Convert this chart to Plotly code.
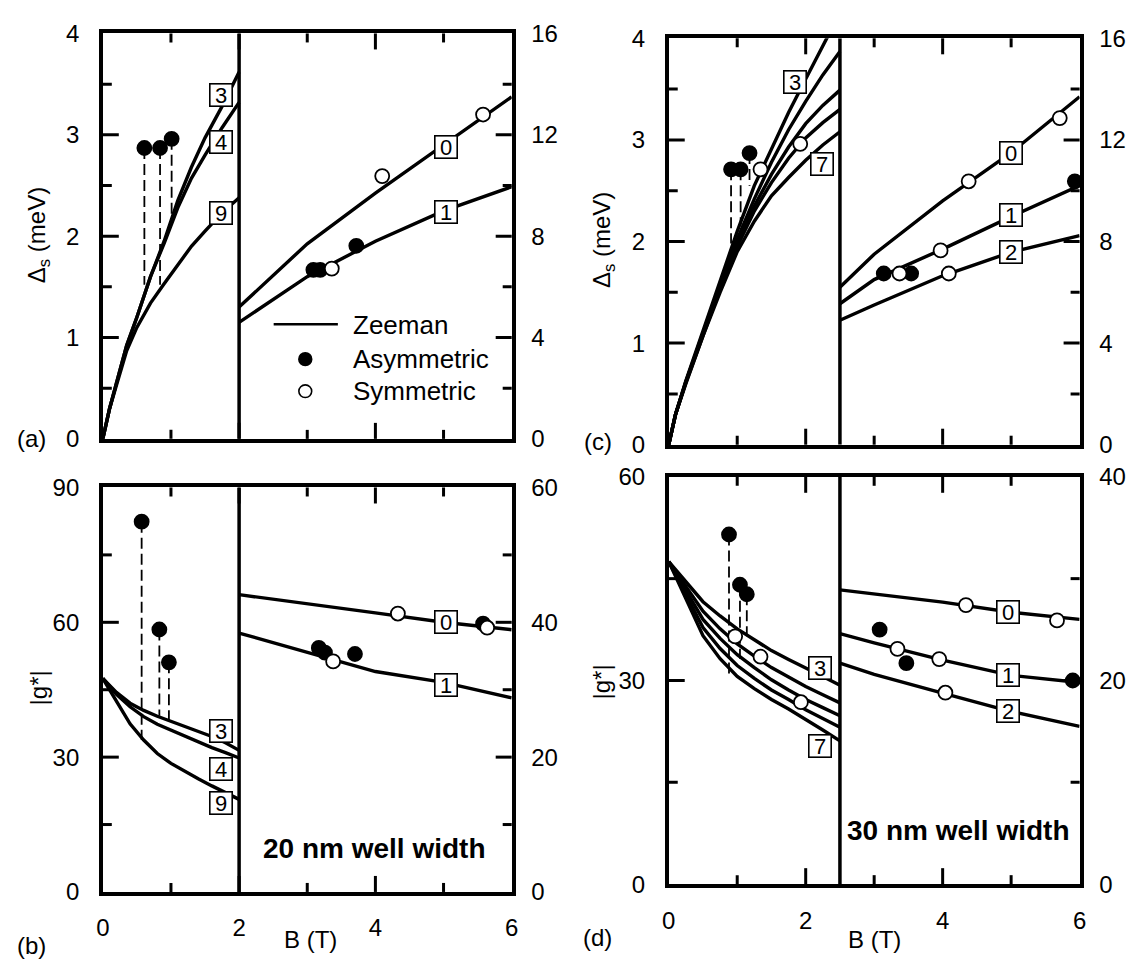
import plotly.graph_objects as go

W, H = 1135, 973

# ---------------- data ----------------
# Panel (a): 20 nm well, spin splitting (meV) -- low-field part, left axis
a_xl = [0, 0.1, 0.2, 0.35, 0.5, 0.7, 0.9, 1.1, 1.3, 1.5, 1.75, 2.0]
a_l3 = [0, 0.3, 0.55, 0.92, 1.2, 1.6, 1.95, 2.35, 2.68, 2.97, 3.28, 3.62]
a_l4 = [0, 0.3, 0.55, 0.92, 1.2, 1.6, 1.93, 2.28, 2.57, 2.8, 3.07, 3.32]
a_l9 = [0, 0.3, 0.53, 0.87, 1.1, 1.34, 1.53, 1.72, 1.9, 2.05, 2.23, 2.38]
# high-field part, right axis
a_xr = [2, 3, 4, 5, 6]
a_r0 = [5.2, 7.7, 9.7, 11.6, 13.5]
a_r1 = [4.6, 6.4, 7.8, 9.0, 9.95]
a_asym_l_x = [0.61, 0.84, 1.01]
a_asym_l_y = [2.87, 2.87, 2.96]
a_asym_l_drop = [1.52, 1.52, 2.2]
a_asym_r_x = [3.09, 3.19, 3.72]
a_asym_r_y = [6.67, 6.67, 7.62]
a_sym_r_x = [3.36, 4.1, 5.58]
a_sym_r_y = [6.72, 10.37, 12.8]

# Panel (b): 20 nm well, |g*|
b_xl = [0, 0.2, 0.4, 0.6, 0.8, 1.0, 1.2, 1.4, 1.6, 1.8, 2.0]
b_l3 = [47.5, 44.4, 42.0, 40.4, 39.1, 38.0, 37.0, 35.8, 34.6, 33.2, 31.5]
b_l4 = [47.5, 44.0, 41.2, 39.0, 37.3, 36.0, 34.7, 33.3, 32.1, 31.0, 29.8]
b_l9 = [47.5, 42.3, 37.4, 33.8, 30.8, 28.6, 26.8, 25.2, 23.6, 22.0, 20.6]
b_xr = [2, 3, 4, 5, 6]
b_r0 = [44.1, 42.8, 41.4, 40.0, 38.9]
b_r1 = [38.4, 35.6, 32.7, 31.1, 28.8]
b_asym_l_x = [0.57, 0.83, 0.97]
b_asym_l_y = [82.4, 58.4, 51.1]
b_asym_l_drop = [33.8, 39.2, 38.1]
b_asym_r_x = [3.17, 3.26, 3.7, 5.58]
b_asym_r_y = [36.2, 35.5, 35.3, 39.8]
b_sym_r_x = [3.38, 4.33, 5.64]
b_sym_r_y = [34.2, 41.3, 39.2]

# Panel (c): 30 nm well, spin splitting (meV)
c_xl = [0, 0.1, 0.25, 0.5, 0.75, 1.0, 1.25, 1.5, 1.75, 2.0, 2.25, 2.5]
c_l3 = [0, 0.3, 0.63, 1.12, 1.62, 2.1, 2.55, 2.92, 3.27, 3.6, 3.93, 4.25]
c_l4 = [0, 0.3, 0.62, 1.1, 1.58, 2.02, 2.42, 2.78, 3.1, 3.38, 3.64, 3.87]
c_l5 = [0, 0.3, 0.62, 1.09, 1.55, 1.98, 2.35, 2.66, 2.93, 3.16, 3.34, 3.49]
c_l6 = [0, 0.3, 0.61, 1.08, 1.53, 1.95, 2.3, 2.58, 2.82, 3.02, 3.17, 3.3]
c_l7 = [0, 0.3, 0.6, 1.07, 1.5, 1.9, 2.2, 2.45, 2.63, 2.8, 2.95, 3.08]
c_xr = [2.5, 3, 4, 5, 6]
c_r0 = [6.2, 7.5, 9.6, 11.5, 13.7]
c_r1 = [5.55, 6.5, 7.7, 8.98, 10.2]
c_r2 = [4.9, 5.5, 6.65, 7.58, 8.23]
c_asym_l_x = [0.91, 1.05, 1.18]
c_asym_l_y = [2.71, 2.71, 2.87]
c_asym_l_drop = [1.98, 2.15, 2.55]
c_sym_l_x = [1.34, 1.92]
c_sym_l_y = [2.71, 2.96]
c_asym_r_x = [3.14, 3.54, 5.93]
c_asym_r_y = [6.74, 6.74, 10.37]
c_sym_r_x = [3.37, 3.97, 4.09, 4.38, 5.71]
c_sym_r_y = [6.74, 7.65, 6.74, 10.37, 12.86]

# Panel (d): 30 nm well, |g*|
d_xl = [0, 0.25, 0.5, 0.75, 1.0, 1.25, 1.5, 1.75, 2.0, 2.25, 2.5]
d_l3 = [47.5, 44.5, 41.6, 39.5, 37.6, 36.0, 34.4, 33.1, 31.9, 30.6, 29.3]
d_l4 = [47.5, 43.8, 40.2, 37.6, 35.4, 33.6, 31.9, 30.5, 29.1, 27.9, 26.7]
d_l5 = [47.5, 43.2, 39.0, 36.2, 33.8, 31.9, 30.1, 28.6, 27.2, 26.0, 24.8]
d_l6 = [47.5, 42.6, 37.8, 34.7, 32.2, 30.3, 28.6, 27.2, 25.7, 24.4, 23.1]
d_l7 = [47.5, 42.0, 36.6, 33.2, 30.6, 28.8, 27.2, 25.8, 24.3, 22.7, 21.1]
d_xr = [2.5, 3, 4, 5, 6]
d_r0 = [28.9, 28.5, 27.7, 26.7, 26.0]
d_r1 = [24.6, 23.7, 22.0, 20.5, 19.8]
d_r2 = [21.7, 20.6, 18.75, 16.95, 15.5]
d_asym_l_x = [0.88, 1.04, 1.14]
d_asym_l_y = [51.5, 44.1, 42.7]
d_asym_l_drop = [30.8, 33.2, 36.5]
d_sym_l_x = [0.97, 1.34, 1.93]
d_sym_l_y = [36.5, 33.5, 26.8]
d_asym_r_x = [3.08, 3.47, 5.9]
d_asym_r_y = [25.0, 21.7, 20.0]
d_sym_r_x = [3.34, 3.95, 4.04, 4.34, 5.67]
d_sym_r_y = [23.1, 22.1, 18.8, 27.4, 25.9]

# curve tags (text, B, value, which y-axis)
a_tags = [("3", 1.74, 3.39, "L"), ("4", 1.74, 2.93, "L"), ("9", 1.74, 2.23, "L"),
          ("0", 5.04, 11.5, "R"), ("1", 5.04, 8.97, "R")]
b_tags = [("3", 1.74, 35.9, "L"), ("4", 1.74, 27.3, "L"), ("9", 1.74, 19.7, "L"),
          ("0", 5.03, 40.1, "R"), ("1", 5.03, 30.7, "R")]
c_tags = [("3", 1.85, 3.57, "L"), ("7", 2.24, 2.76, "L"),
          ("0", 5.0, 11.48, "R"), ("1", 5.0, 9.03, "R"), ("2", 5.0, 7.58, "R")]
d_tags = [("3", 2.21, 31.8, "L"), ("7", 2.21, 20.3, "L"),
          ("0", 4.95, 26.7, "R"), ("1", 4.95, 20.5, "R"), ("2", 4.95, 17.0, "R")]

# ---------------- layout geometry (pixels) ----------------
FONT = "Liberation Sans, Arial, sans-serif"
panels = {
    "a": dict(x=(97, 511), y=(20, 437), xa="x", yl="y", yr="y2", div=2.0,
              ylr=[0, 4], yld=1, ylm=0.5, yrr=[0, 16], yrd=4, yrm=2, xlab=False),
    "b": dict(x=(97, 511), y=(487, 903), xa="x2", yl="y3", yr="y4", div=2.0,
              ylr=[0, 90], yld=30, ylm=15, yrr=[0, 60], yrd=20, yrm=10, xlab=True),
    "c": dict(x=(670, 1086), y=(25, 443), xa="x3", yl="y5", yr="y6", div=2.5,
              ylr=[0, 4], yld=1, ylm=0.5, yrr=[0, 16], yrd=4, yrm=2, xlab=False),
    "d": dict(x=(670, 1086), y=(476, 895), xa="x4", yl="y7", yr="y8", div=2.5,
              ylr=[0, 60], yld=30, ylm=15, yrr=[0, 40], yrd=20, yrm=10, xlab=True),
}
MAJ, MIN, TW, LW = 16, 9, 3, 3.5


def px(v):
    return v / W


def py(v):
    return 1 - v / H


def axkey(a):
    return a[0] + "axis" + a[1:]


def steps(lo, hi, st):
    out, k = [], 1
    while lo + k * st < hi - 1e-9:
        out.append(lo + k * st)
        k += 1
    return out


fig = go.Figure()
layout = dict(width=W, height=H, margin=dict(l=0, r=0, t=0, b=0),
              paper_bgcolor="white", plot_bgcolor="white", showlegend=False,
              font=dict(family=FONT, size=24, color="black"))
shapes, annos = [], []
tickline = dict(color="black", width=TW)

for name, p in panels.items():
    xd = [px(p["x"][0]), px(p["x"][1])]
    yd = [py(p["y"][1]), py(p["y"][0])]
    tickf = dict(family=FONT, size=24, color="black")
    layout[axkey(p["xa"])] = dict(
        domain=xd, anchor=p["yl"], range=[0, 6], tickvals=[0, 2, 4, 6], ticks="",
        mirror=True, showline=True, linewidth=LW, linecolor="black",
        showgrid=False, zeroline=False, showticklabels=p["xlab"], tickfont=tickf,
        ticklabelstandoff=12)
    layout[axkey(p["yl"])] = dict(
        domain=yd, anchor=p["xa"], range=p["ylr"], dtick=p["yld"], ticks="",
        showline=True, linewidth=LW, linecolor="black", mirror=True,
        showgrid=False, zeroline=False, tickfont=tickf, ticklabelstandoff=15)
    layout[axkey(p["yr"])] = dict(
        overlaying=p["yl"], side="right", anchor=p["xa"], range=p["yrr"], dtick=p["yrd"],
        ticks="", showline=True, linewidth=LW, linecolor="black",
        showgrid=False, zeroline=False, tickfont=tickf, ticklabelstandoff=11)
    # divider between low- and high-field parts
    shapes.append(dict(type="line", xref=p["xa"], yref=p["yl"], x0=p["div"], x1=p["div"],
                       y0=p["ylr"][0], y1=p["ylr"][1], line=dict(color="black", width=LW)))
    # inward ticks on the B axis (bottom and top)
    ydom = p["yl"] + " domain"
    for v in steps(0, 6, 1):
        ln = MAJ if abs(v % 2) < 1e-9 else MIN
        for anchor, sgn in ((0, 1), (1, -1)):
            shapes.append(dict(type="line", xref=p["xa"], yref=ydom, x0=v, x1=v,
                               ysizemode="pixel", yanchor=anchor, y0=0, y1=sgn * ln,
                               line=tickline))
    # inward ticks on left and right value axes
    xdom = p["xa"] + " domain"
    for ya, rng, dmaj, dmin, anchor, sgn in ((p["yl"], p["ylr"], p["yld"], p["ylm"], 0, 1),
                                             (p["yr"], p["yrr"], p["yrd"], p["yrm"], 1, -1)):
        for v in steps(rng[0], rng[1], dmin):
            ratio = v / dmaj
            ln = MAJ if abs(ratio - round(ratio)) < 1e-9 else MIN
            shapes.append(dict(type="line", xref=xdom, yref=ya, y0=v, y1=v,
                               xsizemode="pixel", xanchor=anchor, x0=0, x1=sgn * ln,
                               line=tickline))

line_style = dict(color="black", width=3.4)


def curve(x, y, xa, ya):
    fig.add_trace(go.Scatter(x=x, y=y, mode="lines", line=line_style, xaxis=xa, yaxis=ya,
                             hoverinfo="skip"))


def drops(xs, ys, yd, xa, ya):
    for x0, y0, y1 in zip(xs, ys, yd):
        fig.add_trace(go.Scatter(x=[x0, x0], y=[y0, y1], mode="lines",
                                 line=dict(color="black", width=1.8, dash="11px,5px"),
                                 xaxis=xa, yaxis=ya, hoverinfo="skip"))


def pts(x, y, xa, ya, filled):
    fig.add_trace(go.Scatter(
        x=x, y=y, mode="markers", xaxis=xa, yaxis=ya, cliponaxis=False,
        marker=dict(size=14, symbol="circle",
                    color="black" if filled else "white",
                    line=dict(color="black", width=1.8)),
        hoverinfo="skip"))


P = panels
# (a)
for c in (a_l3, a_l4, a_l9):
    curve(a_xl, c, P["a"]["xa"], P["a"]["yl"])
for c in (a_r0, a_r1):
    curve(a_xr, c, P["a"]["xa"], P["a"]["yr"])
drops(a_asym_l_x, a_asym_l_y, a_asym_l_drop, P["a"]["xa"], P["a"]["yl"])
pts(a_asym_l_x, a_asym_l_y, P["a"]["xa"], P["a"]["yl"], True)
pts(a_asym_r_x, a_asym_r_y, P["a"]["xa"], P["a"]["yr"], True)
pts(a_sym_r_x, a_sym_r_y, P["a"]["xa"], P["a"]["yr"], False)
# (b)
for c in (b_l3, b_l4, b_l9):
    curve(b_xl, c, P["b"]["xa"], P["b"]["yl"])
for c in (b_r0, b_r1):
    curve(b_xr, c, P["b"]["xa"], P["b"]["yr"])
drops(b_asym_l_x, b_asym_l_y, b_asym_l_drop, P["b"]["xa"], P["b"]["yl"])
pts(b_asym_l_x, b_asym_l_y, P["b"]["xa"], P["b"]["yl"], True)
pts(b_asym_r_x, b_asym_r_y, P["b"]["xa"], P["b"]["yr"], True)
pts(b_sym_r_x, b_sym_r_y, P["b"]["xa"], P["b"]["yr"], False)
# (c)
for c in (c_l3, c_l4, c_l5, c_l6, c_l7):
    curve(c_xl, c, P["c"]["xa"], P["c"]["yl"])
for c in (c_r0, c_r1, c_r2):
    curve(c_xr, c, P["c"]["xa"], P["c"]["yr"])
drops(c_asym_l_x, c_asym_l_y, c_asym_l_drop, P["c"]["xa"], P["c"]["yl"])
pts(c_asym_l_x, c_asym_l_y, P["c"]["xa"], P["c"]["yl"], True)
pts(c_sym_l_x, c_sym_l_y, P["c"]["xa"], P["c"]["yl"], False)
pts(c_asym_r_x, c_asym_r_y, P["c"]["xa"], P["c"]["yr"], True)
pts(c_sym_r_x, c_sym_r_y, P["c"]["xa"], P["c"]["yr"], False)
# (d)
for c in (d_l3, d_l4, d_l5, d_l6, d_l7):
    curve(d_xl, c, P["d"]["xa"], P["d"]["yl"])
for c in (d_r0, d_r1, d_r2):
    curve(d_xr, c, P["d"]["xa"], P["d"]["yr"])
drops(d_asym_l_x, d_asym_l_y, d_asym_l_drop, P["d"]["xa"], P["d"]["yl"])
pts(d_asym_l_x, d_asym_l_y, P["d"]["xa"], P["d"]["yl"], True)
pts(d_sym_l_x, d_sym_l_y, P["d"]["xa"], P["d"]["yl"], False)
pts(d_asym_r_x, d_asym_r_y, P["d"]["xa"], P["d"]["yr"], True)
pts(d_sym_r_x, d_sym_r_y, P["d"]["xa"], P["d"]["yr"], False)

# boxed curve tags
for key, tags in (("a", a_tags), ("b", b_tags), ("c", c_tags), ("d", d_tags)):
    p = P[key]
    for t, x, y, side in tags:
        annos.append(dict(text=t, x=x, y=y, xref=p["xa"],
                          yref=p["yl"] if side == "L" else p["yr"],
                          showarrow=False, font=dict(family=FONT, size=22, color="black"),
                          bgcolor="white", bordercolor="black", borderwidth=1.6,
                          borderpad=0, width=21, height=21))


def text(t, xp, yp, size=24, angle=0, bold=False, xanchor="center"):
    annos.append(dict(text=("<b>%s</b>" % t) if bold else t, x=px(xp), y=py(yp),
                      xref="paper", yref="paper", showarrow=False, textangle=angle,
                      xanchor=xanchor, yanchor="middle",
                      font=dict(family=FONT, size=size, color="black")))


# axis titles
text("Δ<sub>s</sub> (meV)", 32, 228, angle=-90)
text("|g*|", 32, 693, angle=-90)
text("Δ<sub>s</sub> (meV)", 604, 233, angle=-90)
text("|g*|", 602, 687, angle=-90)
text("B (T)", 307, 952)
text("B (T)", 878, 952)
# panel letters
text("(a)", 25, 437)
text("(b)", 25, 958)
text("(c)", 598, 440)
text("(d)", 598, 950)
# well widths
text("20 nm well width", 372, 858, size=28, bold=True)
text("30 nm well width", 963, 840, size=28, bold=True)

# legend in panel (a)
shapes.append(dict(type="line", xref="paper", yref="paper", x0=px(270), x1=px(335),
                   y0=py(319), y1=py(319), line=dict(color="black", width=2.5)))
for cy, fill in ((355, "black"), (388, "white")):
    r = 6.5
    shapes.append(dict(type="circle", xref="paper", yref="paper",
                       x0=px(302 - r), x1=px(302 + r), y0=py(cy + r), y1=py(cy - r),
                       fillcolor=fill, line=dict(color="black", width=1.6)))
text("Zeeman", 348, 320, size=26, xanchor="left")
text("Asymmetric", 348, 355, size=26, xanchor="left")
text("Symmetric", 348, 388, size=26, xanchor="left")

layout["shapes"] = shapes
layout["annotations"] = annos
fig.update_layout(**layout)
fig.write_html("out.html")
